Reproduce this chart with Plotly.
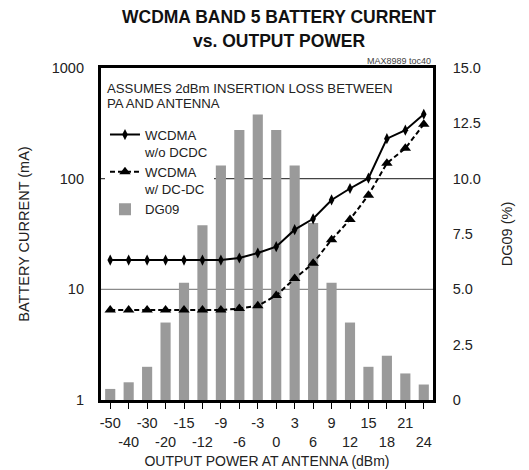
import plotly.graph_objects as go

# Output power at antenna (dBm)
power_dbm = ["-50", "-40", "-30", "-20", "-15", "-12", "-9", "-6", "-3",
             "0", "3", "6", "9", "12", "15", "18", "21", "24"]

# Battery current (mA)
current_no_dcdc = [18.4, 18.4, 18.4, 18.4, 18.4, 18.4, 18.4, 19.2, 21.3,
                   24.3, 34.6, 43.4, 64.2, 81.5, 101, 230, 274, 382]
current_dcdc = [6.5, 6.5, 6.5, 6.5, 6.5, 6.5, 6.5, 6.7, 7.1,
                8.8, 12.5, 17.2, 28.1, 42.7, 71, 138, 188, 310]

# DG09 output power distribution (%)
dg09_pct = [0.5, 0.8, 1.5, 3.5, 5.3, 7.9, 10.6, 12.2, 12.9,
            12.2, 10.6, 8.0, 5.3, 3.5, 1.5, 2.0, 1.2, 0.7]

current_ticks = [1, 10, 100, 1000]
current_labels = ["1", "10", "100", "1000"]
pct_ticks = [0, 2.5, 5.0, 7.5, 10.0, 12.5, 15.0]
pct_labels = ["0", "2.5", "5.0", "7.5", "10.0", "12.5", "15.0"]
grid_levels = [10, 100]
title_lines = ["WCDMA BAND 5 BATTERY CURRENT", "vs. OUTPUT POWER"]
note_lines = ["ASSUMES 2dBm INSERTION LOSS BETWEEN", "PA AND ANTENNA"]

FONT = "Liberation Sans, Arial, sans-serif"

fig = go.Figure()

fig.add_bar(
    x=power_dbm, y=dg09_pct, name="DG09", yaxis="y", width=0.55,
    marker=dict(color="#9a9a9a", line=dict(width=0)), legendrank=3,
)
fig.add_scatter(
    x=power_dbm, y=current_no_dcdc, name="WCDMA<br>w/o DCDC", yaxis="y2",
    mode="lines+markers", line=dict(color="black", width=2),
    marker=dict(symbol="diamond-tall", size=8, color="black"), legendrank=1,
)
fig.add_scatter(
    x=power_dbm, y=current_dcdc, name="WCDMA<br>w/ DC-DC", yaxis="y2",
    mode="lines+markers", line=dict(color="black", width=2, dash="5px,3px"),
    marker=dict(symbol="triangle-up", size=10, color="black"), legendrank=2,
)

# horizontal reference lines at 10 mA and 100 mA
for lvl, col in zip(grid_levels, ["#8a8a8a", "#444444"]):
    fig.add_shape(type="line", xref="paper", x0=0, x1=1, yref="y2", y0=lvl, y1=lvl,
                  line=dict(color=col, width=1.2), layer="below")

# staggered x labels: odd categories drop to a second row
x_labels = [t if i % 2 == 0 else "<br>" + t for i, t in enumerate(power_dbm)]

annotations = []
for txt, yp in zip(title_lines, [1.154, 1.081]):
    annotations.append(dict(
        text=f"<b>{txt}</b>", xref="paper", yref="paper", x=0.527 * 529 / 332 - 101 / 332,
        y=yp, xanchor="center", yanchor="middle", showarrow=False,
        font=dict(size=17.5, color="#111111")))
for txt, yp in zip(note_lines, [0.938, 0.893]):
    annotations.append(dict(
        text=txt, xref="paper", yref="paper", x=0.013, y=yp,
        xanchor="left", yanchor="middle", showarrow=False, font=dict(size=13.2)))
annotations.append(dict(
    text="MAX8989 toc40", xref="paper", yref="paper", x=1.0, y=1.0,
    xanchor="right", yanchor="bottom", yshift=0, showarrow=False,
    font=dict(size=9, color="#444444")))

fig.update_layout(
    width=529, height=470,
    margin=dict(l=101, r=96, t=68, b=70),
    paper_bgcolor="white", plot_bgcolor="white",
    font=dict(family=FONT, size=14.5, color="#222222"),
    showlegend=True,
    legend=dict(
        x=0.012, y=0.845, xanchor="left", yanchor="top",
        bgcolor="white", borderwidth=0, valign="top",
        font=dict(family=FONT, size=13.2, color="#222222"),
        tracegroupgap=4, itemwidth=30,
    ),
    xaxis=dict(
        type="category", categoryarray=power_dbm, range=[-0.5, len(power_dbm) - 0.5],
        tickmode="array", tickvals=power_dbm, ticktext=x_labels, tickangle=0,
        ticks="outside", ticklen=6, tickwidth=1.2, tickcolor="black",
        ticklabelstandoff=2, automargin=False,
        showline=True, linecolor="black", linewidth=2.5, mirror=True,
        showgrid=False, zeroline=False,
        title=dict(text="OUTPUT POWER AT ANTENNA (dBm)", standoff=8,
                   font=dict(size=14)),
    ),
    yaxis=dict(
        side="right", range=[0, 15], tickmode="array",
        tickvals=pct_ticks, ticktext=pct_labels,
        ticks="", ticklabelstandoff=14, automargin=False,
        showline=True, linecolor="black", linewidth=2.5, mirror=True,
        showgrid=False, zeroline=False,
        title=dict(text="DG09 (%)", standoff=22, font=dict(size=14.5)),
    ),
    yaxis2=dict(
        type="log", range=[0, 3], overlaying="y", side="left",
        tickmode="array", tickvals=current_ticks, ticktext=current_labels,
        ticks="", ticklabelstandoff=16, automargin=False,
        showline=False, showgrid=False, zeroline=False,
        title=dict(text="BATTERY CURRENT (mA)", standoff=18, font=dict(size=14.5)),
    ),
    annotations=annotations,
)

fig.write_html("out.html")
